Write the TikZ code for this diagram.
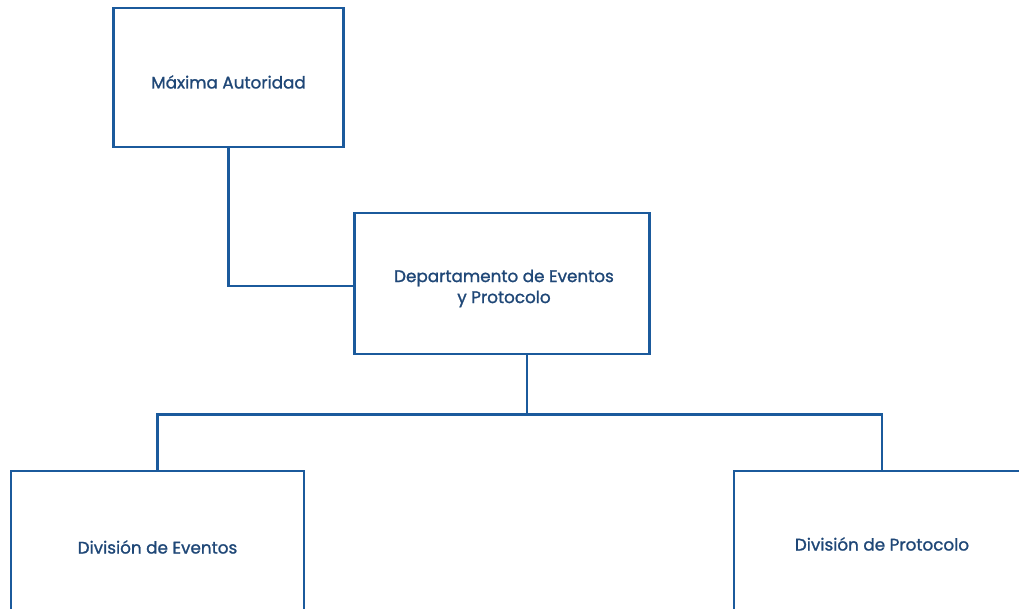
\documentclass[tikz,border=0pt]{standalone}
\usepackage{fontspec}
\setmainfont{Poppins}[FakeBold=1.2]
\definecolor{orgline}{HTML}{1B5A9C}
\definecolor{orgtext}{HTML}{1F4777}
\begin{document}
\begin{tikzpicture}[x=1pt,y=-1pt,
  unit/.style={draw=orgline, line width=2.8pt, fill=white, inner sep=0pt},
  caption/.style={text=orgtext, align=center, inner sep=0pt,
    font=\fontsize{16.8}{21}\selectfont},
  link/.style={draw=orgline, line width=2.8pt}]
\useasboundingbox (0,0) rectangle (1019,609);
\begin{scope}
\clip (0,0) rectangle (1019,609);
% boxes
\node[unit, minimum width=230pt, minimum height=139pt] (max) at (228.5,77.5) {};
\node[unit, minimum width=295pt, minimum height=141pt] (dept) at (502,283.5) {};
\node[unit, minimum width=293pt, minimum height=152pt] (dive) at (157.5,547) {};
\node[unit, minimum width=296pt, minimum height=146pt] (divp) at (882,544) {};
% captions
\node[caption] (maxt) at ([yshift=-4.5pt]max.center) {Máxima Autoridad};
\node[caption] (deptt) at ([xshift=2pt,yshift=-5pt]dept.center) {Departamento de Eventos\\ y Protocolo};
\node[caption] (divet) at (dive.center) {División de Eventos};
\node[caption] (divpt) at (divp.center) {División de Protocolo};
% connectors
\coordinate (bus) at (527,414.5);
\draw[link] (max.south) |- ([yshift=-2.5pt]dept.west);
\draw[link] ([xshift=25pt]dept.south) -- (bus);
\draw[link] (dive.north) |- (bus) -| (divp.north);
\end{scope}
\end{tikzpicture}
\end{document}
